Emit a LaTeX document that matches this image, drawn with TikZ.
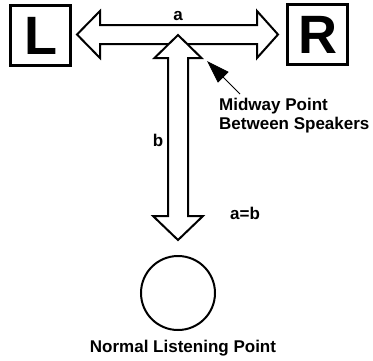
\documentclass[tikz,border=0pt]{standalone}
\usepackage{fontspec}
\setmainfont{Liberation Sans}
\usetikzlibrary{positioning,arrows.meta}

\begin{document}
\begin{tikzpicture}[x=1pt, y=-1pt,
  speaker/.style={draw, line width=3pt, minimum width=60pt, minimum height=60pt,
    inner sep=0pt, font=\fontsize{54}{54}\selectfont\bfseries},
  lbl/.style={font=\fontsize{17}{19}\selectfont\bfseries, inner sep=0pt},
  hollow/.style={draw, fill=white, line width=2pt, line join=miter}]

% Canvas, pixel units with y downwards
\useasboundingbox (0,0) rectangle (373,360);

% Half-widths of shafts and heads
\def\sw{9.5}
\def\hw{23.5}

% Speakers
\node[speaker] (L) at (40.5,35.5) {L};
\node[speaker] (R) at (317.5,34.5) {R};

% Distance between speakers (double arrow)
\coordinate (lt) at (77,34.5);
\coordinate (rt) at (278,34.5);
\draw[hollow] (lt) -- ++(23,-\hw) -- ++(0,\hw-\sw) -- (257,34.5-\sw)
  -- ++(0,\sw-\hw) -- (rt) -- (257,34.5+\hw) -- ++(0,\sw-\hw)
  -- (100,34.5+\sw) -- ++(0,\hw-\sw) -- cycle;

% Distance to listener (down arrow)
\coordinate (top) at (178,35);
\coordinate (bot) at (178,240);
\draw[hollow] (top) -- (178+\hw,58) -- (178+10,58) -- (178+10,216)
  -- (178+25,216) -- (bot) -- (178-25,216) -- (178-10,216)
  -- (178-10,58) -- (178-\hw,58) -- cycle;

% Listener
\node[draw, circle, line width=2pt, minimum size=74pt, inner sep=0pt] (seat) at (178,293) {};

% Labels
\node[lbl] (a) at (178,16) {a};
\node[lbl] (b) at (158,140) {b};
\node[lbl, anchor=west] (ab) at (230,213) {a=b};
\node[lbl, align=left, anchor=north west] (mid) at (219,98)
  {Midway Point\\Between Speakers};
\node[lbl, below=9pt of seat, xshift=5pt] (nlp) {Normal Listening Point};

% Pointer to midway point
\coordinate (ptr) at (240,94);
\coordinate (midpt) at (207,61);
\draw[line width=0.9pt, -{Triangle[length=23pt,width=15pt]}] (ptr) -- (midpt);

\end{tikzpicture}
\end{document}
